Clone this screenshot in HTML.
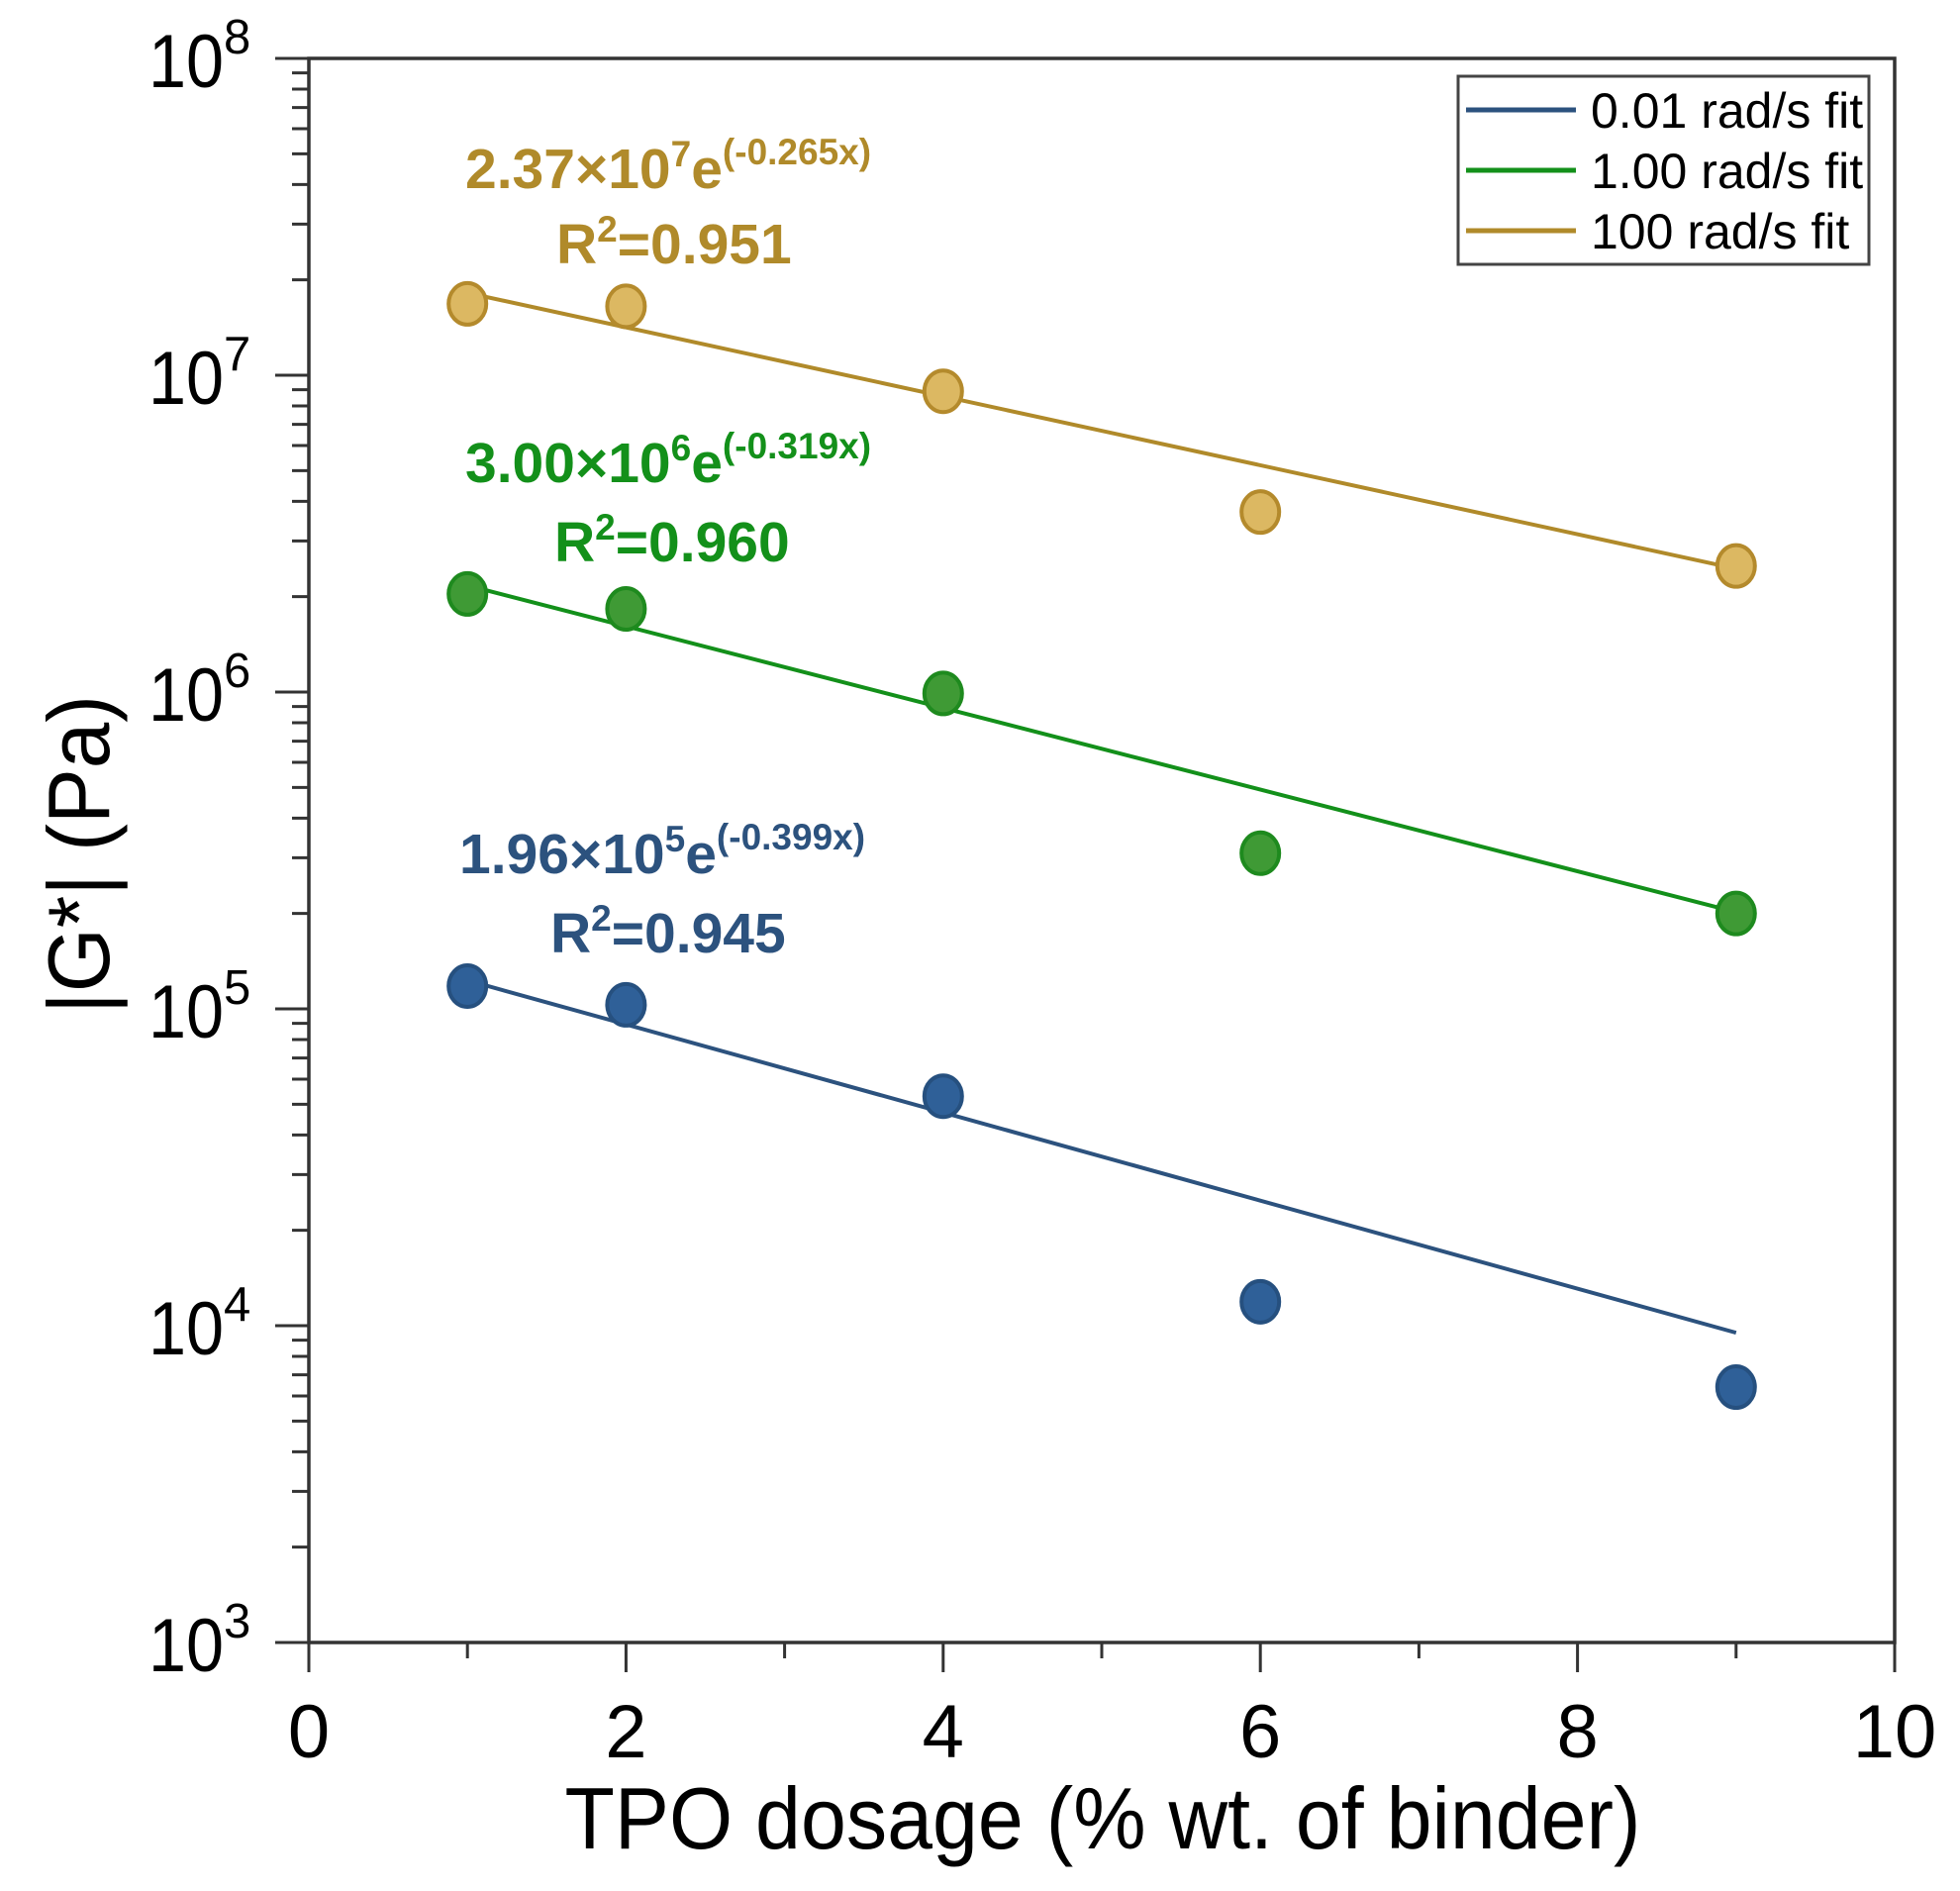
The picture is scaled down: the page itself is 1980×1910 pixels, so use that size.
<!DOCTYPE html>
<html><head><meta charset="utf-8"><style>
html,body{margin:0;padding:0;background:#fff;}
svg{display:block;font-family:"Liberation Sans",Arial,sans-serif;}
</style></head><body>
<svg id="chart" width="1980" height="1910" viewBox="0 0 1980 1910" xmlns="http://www.w3.org/2000/svg">
</svg>
<script>
const xTicks=[0,2,4,6,8,10];
const xMinor=[1,3,5,7,9];
const yDecades=[3,4,5,6,7,8];
const dosage=[1,2,4,6,9];
const g100=[1.68e7,1.65e7,8.9e6,3.7e6,2.5e6];
const g1=[2.04e6,1.83e6,9.9e5,3.1e5,2.0e5];
const g001=[1.18e5,1.03e5,5.3e4,1.19e4,6.4e3];
const fitX=[1,9];
const fit100=[1.82e7,2.45e6];
const fit1=[2.17e6,2.02e5];
const fit001=[1.23e5,9.5e3];
const legendLabels=["0.01 rad/s fit","1.00 rad/s fit","100 rad/s fit"];

const L=312,R=1914,T=59,B=1659;
const xs=v=>L+(v-0)/(10-0)*(R-L);
const ys=v=>B-(Math.log10(v)-3)/(8-3)*(B-T);
const NS="http://www.w3.org/2000/svg";
const svg=document.getElementById('chart');
function mk(tag,attrs,parent){const e=document.createElementNS(NS,tag);for(const k in attrs)e.setAttribute(k,attrs[k]);(parent||svg).appendChild(e);return e;}

let fr=mk('rect',{x:L,y:T,width:R-L,height:B-T,fill:'none',stroke:'#333',"stroke-width":3.5});



xTicks.forEach(v=>{
 let t=mk('line',{x1:xs(v),x2:xs(v),y1:B,y2:B+30,stroke:'#333',"stroke-width":3});
 
 
 let lb=mk('text',{x:xs(v),y:1775,"text-anchor":"middle","font-size":76,fill:'#000'});
 lb.textContent=v;
 
 
});
xMinor.forEach(v=>{
 let t=mk('line',{x1:xs(v),x2:xs(v),y1:B,y2:B+16,stroke:'#333',"stroke-width":3});
 
 
});
yDecades.forEach(d=>{
 const y=ys(Math.pow(10,d));
 let t=mk('line',{x1:L-34,x2:L,y1:y,y2:y,stroke:'#333',"stroke-width":3});
 
 
 let lb=mk('text',{x:150,y:y+29,"font-size":76,fill:'#000',textLength:76,lengthAdjust:'spacingAndGlyphs'});
 lb.textContent='10';
 
 
 let sp=mk('text',{x:226,y:y-5,"font-size":49,fill:'#000'});
 sp.textContent=d;
 
 
 if(d<8){for(let m=2;m<=9;m++){const yy=ys(m*Math.pow(10,d));
  let mt=mk('line',{x1:L-17,x2:L,y1:yy,y2:yy,stroke:'#333',"stroke-width":3});
  
  }}
});
let xt=mk('text',{x:1114,y:1867,"text-anchor":"middle","font-size":88,fill:'#000',textLength:1087,lengthAdjust:'spacingAndGlyphs'});
xt.textContent='TPO dosage (% wt. of binder)';


let yt=mk('text',{x:0,y:0,"text-anchor":"middle","font-size":88,fill:'#000',textLength:322,lengthAdjust:'spacingAndGlyphs',transform:'translate(110,863) rotate(-90)'});
yt.textContent='|G*| (Pa)';



const series=[
 {name:'100',vals:g100,fit:fit100,line:'#b08a2a',fill:'#dcb862',stroke:'#b48a2c'},
 {name:'1',vals:g1,fit:fit1,line:'#13901a',fill:'#3f9a35',stroke:'#1e8a1e'},
 {name:'001',vals:g001,fit:fit001,line:'#2c527e',fill:'#2f6098',stroke:'#26507f'}
];
series.forEach(s=>{
 let ln=mk('line',{x1:xs(fitX[0]),y1:ys(s.fit[0]),x2:xs(fitX[1]),y2:ys(s.fit[1]),stroke:s.line,"stroke-width":4});
 
 
 s.vals.forEach((v,i)=>{
  let c=mk('ellipse',{cx:xs(dosage[i]),cy:ys(v),rx:19,ry:21,fill:s.fill,stroke:s.stroke,"stroke-width":4});
  
  
 });
});

function ann(x,y,col,a,e,b,nm){
 let t=mk('text',{x:x,y:y,"font-size":57,"font-weight":"bold",fill:col});
 t.innerHTML=a+'×10<tspan dy="-22" font-size="37">'+e+'</tspan><tspan dy="22">e</tspan><tspan dy="-24" font-size="37">(-'+b+'x)</tspan>';
 
 
}
function r2(x,y,col,v,nm){
 let t=mk('text',{x:x,y:y,"font-size":57,"font-weight":"bold",fill:col});
 t.innerHTML='R<tspan dy="-22" font-size="37">2</tspan><tspan dy="22">='+v+'</tspan>';
 
 
}
ann(470,190,'#b08a2a','2.37','7','0.265','equation-100');
r2(562,266,'#b08a2a','0.951','r2-100');
ann(470,487,'#13901a','3.00','6','0.319','equation-1');
r2(560,567,'#13901a','0.960','r2-1');
ann(464,882,'#2c527e','1.96','5','0.399','equation-001');
r2(556,962,'#2c527e','0.945','r2-001');

let lg=mk('rect',{x:1473,y:77,width:415,height:190,fill:'#fff',stroke:'#444',"stroke-width":3});


const lcol=['#2c527e','#13901a','#b08a2a'];
legendLabels.forEach((lab,i)=>{
 const y=111+i*61;
 let l=mk('line',{x1:1481,x2:1592,y1:y,y2:y,stroke:lcol[i],"stroke-width":5});
 
 
 let t=mk('text',{x:1607,y:y+18,"font-size":50,fill:'#000'});
 t.textContent=lab;
 
 
});
</script>
</body></html>
